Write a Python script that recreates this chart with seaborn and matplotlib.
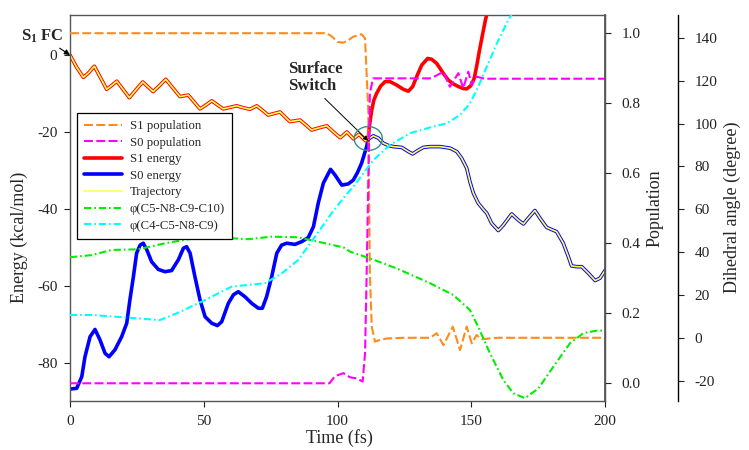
import numpy as np
import matplotlib
matplotlib.use("Agg")
import matplotlib.pyplot as plt
import seaborn as sns
from matplotlib.patches import Ellipse

# --- values ---
s1_time = [0, 2.5, 5.0, 7.0, 9.1, 11.4, 13.7, 15.6, 17.5, 19.9, 22.2, 24.7, 27.2, 29.2,
           31.1, 33.5, 35.8, 38.5, 41.1, 44.2, 46.4, 48.6, 50.8, 53.0, 55.2, 57.3, 59.8,
           62.3, 64.8, 67.3, 69.8, 72.0, 74.1, 76.3, 78.5, 80.4, 82.2, 84.1, 86.0, 88.2,
           90.3, 93.2, 96.0, 98.5, 101.0, 103.5, 106.0, 108.0, 110.5, 111.5,
           111.9, 112.8, 113.6, 114.6, 116.1, 117.8, 119.6, 122.1, 124.6, 126.5, 128.1,
           129.6, 131.5, 133.7, 135.2, 137.1, 139.6, 141.4, 143.3, 145.2, 147.0, 148.3,
           149.8, 151.1, 152.1, 153.1, 154.3, 155.3, 156.5]
s1_energy = [0, -3.2, -5.8, -4.6, -2.9, -5.9, -8.9, -7.9, -6.8, -9.0, -11.1, -9.0, -7.0, -8.3,
             -9.5, -7.9, -6.3, -8.6, -10.8, -10.4, -12.2, -14.0, -13.0, -11.9, -13.0, -14.0, -13.6,
             -13.2, -13.7, -14.1, -13.2, -14.4, -15.6, -15.2, -14.8, -16.1, -17.3, -17.1, -16.9, -18.2,
             -19.5, -18.9, -18.4, -20.0, -21.5, -20.0, -21.8, -20.6, -22.3, -21.8,
             -18.6, -14.3, -11.7, -10.0, -8.1, -6.9, -6.9, -7.8, -8.9, -9.4, -8.2,
             -5.6, -2.6, -0.9, -1.1, -2.2, -4.8, -6.5, -7.5, -8.2, -8.7, -8.8,
             -8.0, -6.1, -2.6, 1.3, 5.6, 9.1, 12.5]

s0_time = [0, 2.5, 4.4, 5.6, 7.5, 9.35, 11.2, 13.1, 14.6, 16.8, 19.3, 21.2, 22.4, 23.7,
           24.9, 26.2, 27.4, 28.7, 30.5, 33.0, 35.5, 38.0, 40.5, 42.4, 43.6, 44.9, 46.7,
           48.6, 50.5, 53.0, 55.1, 56.7, 59.2, 61.1, 62.9, 65.4, 67.9, 70.4, 71.9, 73.5,
           75.4, 77.3, 79.1, 81.0, 84.1, 86.6, 89.1, 91.0, 92.8, 94.7, 97.4, 99.1, 101.6,
           104.0, 105.9, 107.5, 109.0, 110.9, 111.5, 112.1, 113.4, 115.3, 117.1, 119.0,
           120.9, 124.0, 126.5, 128.1, 129.8, 132.1, 134.6, 138.3, 142.1, 144.6, 146.4,
           148.3, 149.5, 150.8, 152.6, 154.5, 155.8, 157.6, 160.1, 162.0, 165.1, 167.6,
           169.5, 171.3, 173.8, 175.7, 178.2, 181.9, 184.4, 186.3, 187.5, 189.4, 191.3,
           193.8, 196.3, 198.1, 200]
s0_energy = [-86.8, -86.6, -83.6, -78.4, -73.2, -71.3, -74.0, -77.5, -78.4, -76.6, -73.2,
             -69.7, -63.6, -57.6, -51.5, -49.4, -48.9, -50.6, -53.7, -55.7, -56.3, -56.0,
             -53.2, -50.2, -49.8, -51.5, -57.6, -63.6, -68.0, -69.7, -70.3, -69.3, -64.5,
             -62.3, -61.5, -62.8, -64.5, -65.8, -65.8, -62.8, -57.6, -51.5, -49.4, -48.9,
             -49.2, -48.5, -47.4, -44.6, -38.5, -33.3, -29.7, -31.2, -33.8, -33.5, -32.5,
             -30.5, -28.1, -23.8, -21.8, -21.6, -21.0, -21.6, -22.9, -23.5, -23.8, -24.0,
             -25.1, -25.7, -24.9, -24.0, -23.8, -23.8, -24.2, -25.1, -26.8, -29.4, -32.9,
             -35.9, -38.5, -40.1, -41.1, -43.7, -45.6, -44.2, -41.3, -42.9, -43.9, -42.4,
             -40.4, -42.4, -44.8, -45.9, -48.9, -52.4, -54.8, -55.0, -55.0, -56.7, -58.6,
             -58.0, -56.0]

switch_time = 111.5

s1pop_time = [0, 96, 98, 100, 102.2, 104, 105.9, 109.0, 110.3, 111.5, 112.1, 112.8, 114.0,
              115.9, 118.4, 125, 134.6, 137.1, 139.6, 143.1, 145.8, 148.3, 150.2, 152.0,
              153.9, 160, 170, 180, 190, 200]
s1_pop = [1.0, 1.0, 0.99, 0.975, 0.973, 0.98, 0.99, 0.997, 0.985, 0.78, 0.314, 0.162, 0.119,
          0.124, 0.128, 0.13, 0.13, 0.143, 0.109, 0.162, 0.095, 0.162, 0.114, 0.138,
          0.126, 0.13, 0.13, 0.13, 0.13, 0.13]

s0pop_time = [0, 97, 99, 102.2, 104.7, 107.2, 109.4, 110.3, 110.9, 112.1, 113.3, 115.9,
              125, 135, 139.6, 142.0, 145.2, 147.0, 148.9, 150.2, 152.0, 155, 165, 175,
              185, 200]
s0_pop = [0.0, 0.0, 0.02, 0.029, 0.017, 0.014, 0.005, 0.086, 0.314, 0.829, 0.871, 0.871,
          0.871, 0.871, 0.89, 0.847, 0.886, 0.843, 0.89, 0.852, 0.876, 0.87, 0.87, 0.87,
          0.87, 0.87]

phi1_time = [0, 8.1, 15.6, 25.5, 35.5, 44.2, 54.2, 66.7, 75.4, 85.3, 92.8, 102.2, 104.7,
             112.1, 122.1, 134.6, 143.3, 149.5, 152.6, 157.0, 162.0, 165.7, 170.1, 175.1,
             180.7, 186.9, 191.9, 196.9, 200]
phi1 = [37.7, 38.7, 41.1, 41.4, 44.2, 46.1, 47.0, 46.1, 47.3, 47.0, 44.9, 42.3, 40.3,
        37.2, 32.5, 25.6, 20.1, 13.1, 5.3, -7.1, -19.5, -25.7, -28.0, -23.4,
        -13.3, -2.4, 2.3, 3.5, 3.5]

phi2_time = [0, 8.1, 16.8, 25.5, 33.6, 40.5, 49.2, 60.4, 72.9, 79.2, 85.3, 91.6, 97.8,
             102.6, 105.9, 113.4, 119.6, 127.1, 134.6, 140.8, 145.8, 149.5, 152.6, 155.8,
             159.6, 163.2, 166]
phi2 = [10.8, 10.8, 10.0, 9.2, 8.4, 11.9, 17.0, 24.0, 25.6, 30.2, 36.4, 47.3, 58.2,
        65.9, 70.6, 83.0, 90.0, 95.5, 98.2, 100.1, 104.0, 109.4, 117.2, 126.5,
        137.4, 146.7, 153.0]

x_ticks = [0, 50, 100, 150, 200]
energy_ticks = [-80, -60, -40, -20, 0]
pop_ticks = [0.0, 0.2, 0.4, 0.6, 0.8, 1.0]
angle_ticks = [-20, 0, 20, 40, 60, 80, 100, 120, 140]

# trajectory follows S1 up to the hop, S0 afterwards
s1_t = np.array(s1_time)
s0_t = np.array(s0_time)
traj_time = np.concatenate([s1_t[s1_t <= switch_time], s0_t[s0_t > switch_time]])
traj_energy = np.concatenate([np.array(s1_energy)[s1_t <= switch_time],
                              np.array(s0_energy)[s0_t > switch_time]])

sns.set_theme(style="ticks")
plt.rcParams['font.family'] = ['Liberation Serif', 'DejaVu Serif']
plt.rcParams['axes.unicode_minus'] = False
plt.rcParams['mathtext.fontset'] = 'custom'
plt.rcParams['mathtext.rm'] = 'Liberation Serif'
plt.rcParams['mathtext.bf'] = 'Liberation Serif:bold'

fig = plt.figure(figsize=(7.49, 4.5), dpi=100)
ax = fig.add_axes([70 / 749, 49 / 450, 535 / 749, 386 / 450])
ax_pop = ax.twinx()
ax_ang = ax.twinx()
ax_ang.spines['right'].set_position(('outward', 73 * 0.72))

dash = (0, (4.3, 1.6))
dashdot = (0, (3.5, 1.4, 0.8, 1.4))
common = dict(estimator=None, sort=False, legend=False)
smooth = dict(solid_joinstyle='round', solid_capstyle='round')

sns.lineplot(x=s0_time, y=s0_energy, ax=ax, color='#0000ff', lw=2.6, label='S0 energy',
             **common, **smooth)
sns.lineplot(x=s1_time, y=s1_energy, ax=ax, color='#ff0000', lw=2.6, label='S1 energy',
             **common, **smooth)
sns.lineplot(x=traj_time, y=traj_energy, ax=ax, color='#ffff55', lw=1.2, label='Trajectory',
             **common, **smooth)

sns.lineplot(x=s1pop_time, y=s1_pop, ax=ax_pop, color='#ff8c1a', lw=1.5, linestyle=dash,
             label='S1 population', **common)
sns.lineplot(x=s0pop_time, y=s0_pop, ax=ax_pop, color='#ff00ff', lw=1.5, linestyle=dash,
             label='S0 population', **common)

sns.lineplot(x=phi1_time, y=phi1, ax=ax_ang, color='#00ee00', lw=1.5, linestyle=dashdot,
             label='\u03c6(C5-N8-C9-C10)', **common)
sns.lineplot(x=phi2_time, y=phi2, ax=ax_ang, color='#00ffff', lw=1.5, linestyle=dashdot,
             label='\u03c6(C4-C5-N8-C9)', **common)

ax.add_patch(Ellipse((switch_time, -21.7), width=10.5, height=6.2, fill=False,
                     edgecolor='#2f8f8f', lw=1.0, zorder=6))

# axes ranges / ticks
ax.set_xlim(0, 200)
ax.set_ylim(-89.9, 10.4)
ax.set_xticks(x_ticks)
ax.set_yticks(energy_ticks)
ax_pop.set_ylim(-0.0506, 1.052)
ax_pop.set_yticks(pop_ticks)
ax_pop.set_yticklabels([f'{v:.1f}' for v in pop_ticks])
ax_ang.set_ylim(-29.3, 150.6)
ax_ang.set_yticks(angle_ticks)

for a in (ax, ax_pop, ax_ang):
    a.tick_params(direction='out', length=4, width=0.8, labelsize=11, colors='#222222')
ax.tick_params(axis='x', pad=6)
ax.tick_params(axis='y', pad=5)
ax_pop.tick_params(axis='y', pad=8)
ax_ang.tick_params(axis='y', pad=8)

for s in ax.spines.values():
    s.set_color('#555555')
    s.set_linewidth(1.0)
for s in ('top', 'left', 'bottom'):
    ax_pop.spines[s].set_visible(False)
    ax_ang.spines[s].set_visible(False)
ax_pop.spines['right'].set_color('#555555')
ax_ang.spines['right'].set_color('black')
ax_ang.spines['right'].set_linewidth(1.0)

ax.set_xlabel('Time (fs)', fontsize=13)
ax.set_ylabel('Energy (kcal/mol)', fontsize=13)
ax_pop.set_ylabel('Population', fontsize=13)
ax_ang.set_ylabel('Dihedral angle (degree)', fontsize=13)
ax.xaxis.set_label_coords(0.503, -0.073)
ax.yaxis.set_label_coords(-0.0785, 0.424)
ax_pop.yaxis.set_label_coords(1.0785, 0.499)
ax_ang.yaxis.set_label_coords(1.2224, 0.501)

# annotations
ax.annotate(r'$\mathbf{S_1}$ FC', xy=(0, 0), xycoords='data', xytext=(20.7, 409.5),
            textcoords='figure pixels', fontsize=12, fontweight='bold', ha='left', va='baseline',
            arrowprops=dict(arrowstyle='-|>', color='black', lw=0.8, mutation_scale=8,
                            shrinkA=0, shrinkB=0, relpos=(0.8, 0)), annotation_clip=False)
ax.annotate('Surface\nSwitch', xy=(switch_time, -22.3), xycoords='data', xytext=(287.7, 389),
            textcoords='figure pixels', fontsize=12, fontweight='bold', ha='left', va='top',
            linespacing=1.1,
            arrowprops=dict(arrowstyle='-|>', color='black', lw=0.7, mutation_scale=7,
                            shrinkA=1, shrinkB=0, relpos=(0.6, 0)), annotation_clip=False)

# legend gathers lines from all three axes
lines = {l.get_label(): l for a in (ax, ax_pop, ax_ang) for l in a.get_lines()}
order = ['S1 population', 'S0 population', 'S1 energy', 'S0 energy', 'Trajectory',
         '\u03c6(C5-N8-C9-C10)', '\u03c6(C4-C5-N8-C9)']
leg = ax_ang.legend([lines[k] for k in order], order, loc='upper left',
                    bbox_to_anchor=(0.0125, 0.746), borderaxespad=0, fontsize=9.2,
                    frameon=True, fancybox=False, framealpha=1, edgecolor='black',
                    borderpad=0.55, labelspacing=0.36, handlelength=3.0, handletextpad=0.6)
leg.get_frame().set_linewidth(0.9)

fig.savefig('out.png', dpi=100)
